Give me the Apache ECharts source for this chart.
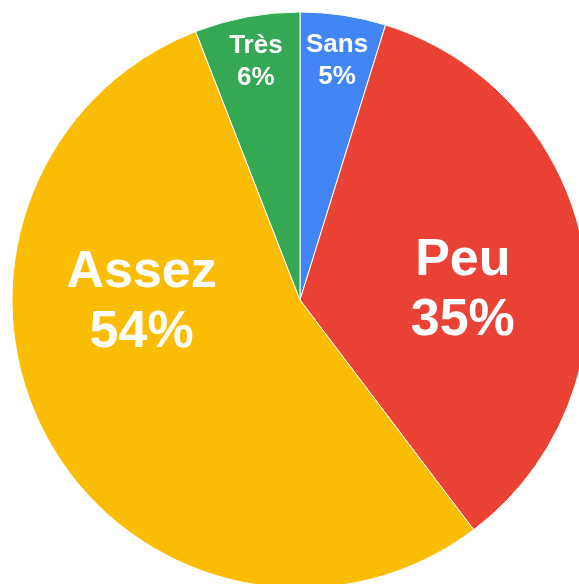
<!DOCTYPE html>
<html>
<head>
<meta charset="utf-8">
<script src="https://cdn.jsdelivr.net/npm/echarts@6/dist/echarts.min.js"></script>
<style>
  html, body { margin: 0; padding: 0; background: #fff; }
  #chart { width: 579px; height: 584px; }
</style>
</head>
<body>
<div id="chart"></div>
<script>
// parts of the pie, clockwise from the top
var categories = ['Sans', 'Peu', 'Assez', 'Très'];
var values = [4.8, 34.9, 54.4, 5.9];
var colors = ['#4285F4', '#EA4335', '#FBBC04', '#34A853'];

// label look per slice (big ones in the middle, small ones near the rim)
var labelSizes = [26, 52, 52, 26];
var labelLineHeights = [32, 60, 60, 32];
var labelOffsets = [[15, -94], [18, 16], [-30, -69], [-17, -94]];

var chart = echarts.init(document.getElementById('chart'));

var pieData = categories.map(function (name, i) {
    return {
        name: name,
        value: values[i],
        itemStyle: { color: colors[i] },
        label: {
            fontSize: labelSizes[i],
            lineHeight: labelLineHeights[i],
            offset: labelOffsets[i]
        }
    };
});

chart.setOption({
    animation: false,
    series: [{
        type: 'pie',
        center: [300, 300],
        radius: [0, 288],
        startAngle: 90,
        clockwise: true,
        itemStyle: {
            borderColor: '#fff',
            borderWidth: 1
        },
        label: {
            show: true,
            position: 'inside',
            color: '#fff',
            fontFamily: 'Liberation Sans, Arial, sans-serif',
            fontWeight: 'bold',
            align: 'center',
            formatter: function (p) {
                return p.name + '\n' + Math.round(p.percent) + '%';
            }
        },
        labelLine: { show: false },
        emphasis: { disabled: true },
        data: pieData
    }]
});
</script>
</body>
</html>
